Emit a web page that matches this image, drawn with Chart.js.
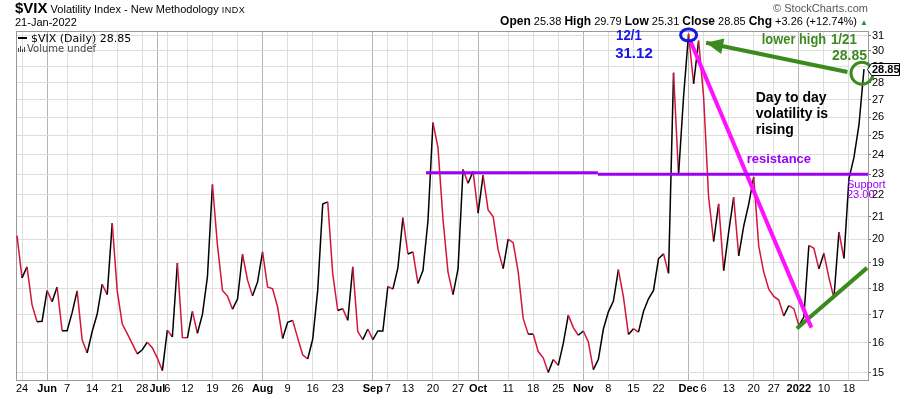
<!DOCTYPE html>
<html>
<head>
<meta charset="utf-8">
<script src="https://cdn.jsdelivr.net/npm/chart.js@4"></script>
<style>
  body { margin: 0; background: #fff; }
  #wrap { position: relative; width: 900px; height: 396px; font-family: "Liberation Sans", Arial, sans-serif; }
  #c { position: absolute; left: 0; top: 0; }
  .hd { position: absolute; white-space: nowrap; color: #000; }
  .hd b { font-weight: bold; font-size: 12px; }
</style>
</head>
<body>
<div id="wrap">
  <canvas id="c" width="900" height="396"></canvas>
  <div class="hd" style="left:15px;top:0px;font-size:11px;line-height:16px;">
    <b style="font-size:15px">$VIX</b> Volatility Index - New Methodology <span style="font-size:9px;letter-spacing:0.5px">INDX</span>
  </div>
  <div class="hd" style="left:15px;top:16px;font-size:11px;line-height:13px;">21-Jan-2022</div>
  <div class="hd" style="right:32px;top:2px;font-size:11px;line-height:13px;color:#555;">&copy; StockCharts.com</div>
  <div class="hd" style="right:32px;top:14px;font-size:11px;line-height:15px;">
    <b>Open</b> 25.38 <b>High</b> 29.79 <b>Low</b> 25.31 <b>Close</b> 28.85 <b>Chg</b> +3.26 (+12.74%) <span style="color:#2e8b2e;font-size:8px">&#9650;</span>
  </div>
</div>
<script>
// --- daily closes, 21-May-2021 .. 21-Jan-2022 (one per trading day) ---
const vix = [
  20.15, 18.40, 18.84, 17.36, 16.74, 16.76,                               // May
  17.90, 17.48, 18.04, 16.42, 16.42, 17.07, 17.89, 16.10, 15.65, 16.39,   // Jun
  17.02, 18.15, 17.75, 20.70, 17.89, 16.66, 16.32, 15.97, 15.62, 15.76,
  16.02, 15.83,
  15.48, 15.07, 16.44, 16.20, 19.00, 16.18, 16.17, 17.12, 16.33, 17.01,   // Jul
  18.45, 22.50, 19.73, 17.91, 17.69, 17.20, 17.58, 19.36, 18.31, 17.70,
  18.24,
  19.46, 18.04, 17.97, 17.28, 16.15, 16.72, 16.79, 16.17, 15.59, 15.45,   // Aug
  16.12, 17.91, 21.57, 21.67, 18.56, 17.15, 17.22, 16.79, 18.84, 16.39,
  16.11, 16.48,
  16.11, 16.41, 16.41, 18.06, 17.96, 18.80, 20.95, 19.37, 19.46, 18.18,   // Sep
  18.69, 20.81, 25.71, 24.36, 20.87, 18.63, 17.75, 18.76, 23.25, 22.56,
  23.14,
  21.15, 22.96, 21.30, 21.00, 19.54, 18.77, 20.00, 19.85, 18.64, 16.86,   // Oct
  16.30, 16.30, 15.70, 15.49, 15.01, 15.43, 15.24, 15.98, 16.98, 16.53,
  16.26,
  16.41, 16.03, 15.10, 15.44, 16.48, 17.10, 17.50, 18.73, 17.66, 16.29,   // Nov
  16.49, 16.37, 17.11, 17.59, 17.91, 19.17, 19.38, 18.58, 28.62, 22.96,
  27.19,
  31.12, 27.95, 30.67, 27.18, 21.89, 19.90, 21.58, 18.69, 20.31, 21.89,   // Dec
  19.29, 20.57, 21.57, 22.87, 19.70, 18.63, 17.96, 17.68, 17.54, 16.95,
  17.33, 17.22,
  16.60, 16.91, 19.73, 19.61, 18.76, 19.40, 18.41, 17.62, 20.31, 19.19,   // Jan
  22.79, 23.85, 25.59, 28.85
];

// x axis labels: trading-day index -> text
const tickIdx  = [1, 6, 10, 15, 20, 25, 28, 30, 34, 39, 44, 49, 54, 59, 64, 71, 74, 78, 83, 88,
                  92, 98, 103, 108, 113, 118, 123, 128, 134, 137, 142, 147, 151, 156, 161, 166];
const tickText = ['24', 'Jun', '7', '14', '21', '28', 'Jul', '6', '12', '19', '26', 'Aug', '9', '16', '23',
                  'Sep', '7', '13', '20', '27', 'Oct', '11', '18', '25', 'Nov', '8', '15', '22',
                  'Dec', '6', '13', '20', '27', '2022', '10', '18'];
const monthTicks = ['Jun', 'Jul', 'Aug', 'Sep', 'Oct', 'Nov', 'Dec', '2022'];
const yTicks = [15, 16, 17, 18, 19, 20, 21, 22, 23, 24, 25, 26, 27, 28, 29, 30, 31];

// hand drawn lines, in (trading-day index, value)
const resistanceA = [[81.6, 23.08], [115.9, 23.08]];
const resistanceB = [[115.9, 23.0], [169.8, 23.0]];
const downTrend   = [[134.3, 30.7], [158.5, 16.53]];
const lowerHigh   = [[137.5, 30.53], [165.7, 28.67]];
const upTrend     = [[155.6, 16.5], [169.6, 18.8]];

const RED = '#d4143c', BLACK = '#000';
const GREEN = '#3c8a1e', PURPLE = '#9b00f2', MAGENTA = '#ff10ff', BLUE = '#1515e8';
const SANS = '"Liberation Sans", Arial, sans-serif';

const pts = arr => arr.map(p => ({ x: p[0], y: p[1] }));
const drawn = (arr, color, w) => ({
  data: pts(arr), borderColor: color, borderWidth: w, pointRadius: 0, order: 0, tension: 0
});

// frame, legend and the text / shapes drawn on the chart
const extras = {
  id: 'extras',
  beforeDatasetsDraw(chart) {
    const { ctx, chartArea: a } = chart;
    ctx.save();
    ctx.strokeStyle = '#999';
    ctx.lineWidth = 1;
    ctx.strokeRect(a.left + 0.5, a.top + 0.5, a.right - a.left, a.bottom - a.top);
    // legend
    ctx.fillStyle = '#000';
    ctx.fillRect(a.left + 2, a.top + 6, 9, 2);
    ctx.font = '11px "DejaVu Sans", sans-serif';
    ctx.textBaseline = 'alphabetic';
    ctx.fillText('$VIX (Daily) 28.85', a.left + 15, a.top + 11);
    ctx.font = '10px "DejaVu Sans", sans-serif';
    ctx.fillStyle = '#444';
    [4, 6, 3, 5].forEach((h, i) => ctx.fillRect(a.left + 2 + i * 2, a.top + 21 - h, 1, h));
    ctx.fillText('Volume undef', a.left + 11, a.top + 21);
    ctx.restore();
  },
  afterDatasetsDraw(chart) {
    const { ctx, scales: { x, y } } = chart;
    const px = i => x.getPixelForValue(i), py = v => y.getPixelForValue(v);
    ctx.save();
    // arrow head on the lower-high line
    const tx = px(lowerHigh[0][0]), ty = py(lowerHigh[0][1]);
    const ex = px(lowerHigh[1][0]), ey = py(lowerHigh[1][1]);
    const ang = Math.atan2(ty - ey, tx - ex);
    ctx.fillStyle = GREEN;
    ctx.beginPath();
    ctx.moveTo(tx, ty);
    ctx.lineTo(tx - 17 * Math.cos(ang) + 8 * Math.sin(ang), ty - 17 * Math.sin(ang) - 8 * Math.cos(ang));
    ctx.lineTo(tx - 17 * Math.cos(ang) - 8 * Math.sin(ang), ty - 17 * Math.sin(ang) + 8 * Math.cos(ang));
    ctx.closePath();
    ctx.fill();
    // circles
    ctx.lineWidth = 3;
    ctx.strokeStyle = GREEN;
    ctx.beginPath();
    ctx.arc(px(168.6), py(28.59), 11, 0, Math.PI * 2);
    ctx.stroke();
    ctx.strokeStyle = BLUE;
    ctx.beginPath();
    ctx.ellipse(px(134.0), py(31.05), 8, 6, 0, 0, Math.PI * 2);
    ctx.stroke();
    // texts
    const txt = (s, i, v, color, font, align, sx) => {
      ctx.save();
      ctx.fillStyle = color;
      ctx.font = font;
      ctx.textAlign = align || 'left';
      ctx.translate(px(i), py(v));
      ctx.scale(sx || 1, 1);
      ctx.fillText(s, 0, 0);
      ctx.restore();
    };
    const B15 = 'bold 15px ' + SANS, B14 = 'bold 14px ' + SANS;
    txt('12/1', 122.1, 30.71, BLUE, B15, 'center', 0.88);
    txt('31.12', 123.1, 29.54, BLUE, B15, 'center');
    txt('lower high', 148.6, 30.45, GREEN, B14, 'left', 0.92);
    txt('1/21', 162.4, 30.45, GREEN, B14, 'left', 0.95);
    txt('28.85', 169.6, 29.42, GREEN, B14, 'right');
    txt('Day to day', 147.4, 26.87, BLACK, B14);
    txt('volatility is', 147.4, 25.96, BLACK, B14);
    txt('rising', 147.4, 25.08, BLACK, B14);
    txt('resistance', 145.6, 23.56, PURPLE, 'bold 13px ' + SANS);
    ctx.restore();
  },
  afterDraw(chart) {
    const { ctx, chartArea: a, scales: { y } } = chart;
    ctx.save();
    ctx.fillStyle = PURPLE;
    ctx.font = '11px ' + SANS;
    ctx.fillText('Support', a.right - 21, y.getPixelForValue(22.33));
    ctx.fillText('23.00', a.right - 21, y.getPixelForValue(21.85));
    // last price tag
    const ly = Math.round(y.getPixelForValue(vix[vix.length - 1])) + 0.5;
    ctx.beginPath();
    ctx.moveTo(a.right - 0.5, ly);
    ctx.lineTo(a.right + 3.5, ly - 6);
    ctx.lineTo(899.5, ly - 6);
    ctx.lineTo(899.5, ly + 6);
    ctx.lineTo(a.right + 3.5, ly + 6);
    ctx.closePath();
    ctx.fillStyle = '#fff';
    ctx.fill();
    ctx.strokeStyle = '#000';
    ctx.lineWidth = 1;
    ctx.stroke();
    ctx.fillStyle = '#000';
    ctx.font = 'bold 11px ' + SANS;
    ctx.textBaseline = 'middle';
    ctx.fillText(vix[vix.length - 1].toFixed(2), a.right + 4, ly + 0.5);
    ctx.restore();
  }
};

new Chart(document.getElementById('c'), {
  type: 'line',
  data: {
    datasets: [
      {
        data: vix.map((v, i) => ({ x: i, y: v })),
        borderWidth: 1.5,
        borderColor: BLACK,
        pointRadius: 0,
        tension: 0,
        order: 5,
        segment: { borderColor: c => c.p1.parsed.y < c.p0.parsed.y ? RED : BLACK }
      },
      drawn(resistanceA, PURPLE, 3),
      drawn(resistanceB, PURPLE, 3),
      drawn(downTrend, MAGENTA, 4),
      drawn(lowerHigh, GREEN, 4),
      drawn(upTrend, GREEN, 4)
    ]
  },
  options: {
    responsive: false,
    animation: false,
    devicePixelRatio: 1,
    layout: { padding: { left: 16, top: 31, right: 0, bottom: 0 } },
    plugins: { legend: { display: false }, tooltip: { enabled: false } },
    scales: {
      x: {
        type: 'linear',
        min: -0.2,
        max: 169.8,
        bounds: 'data',
        afterBuildTicks: s => { s.ticks = tickIdx.map(v => ({ value: v })); },
        afterFit: s => { s.height = 16; },
        border: { display: false },
        grid: {
          drawTicks: false,
          color: c => c.tick && monthTicks.includes(tickText[tickIdx.indexOf(c.tick.value)]) ? '#b4b4b4' : '#dedede'
        },
        ticks: {
          autoSkip: false,
          maxRotation: 0,
          padding: 2,
          color: '#000',
          font: c => ({
            family: SANS, size: 11,
            weight: c.tick && monthTicks.includes(tickText[tickIdx.indexOf(c.tick.value)]) ? 'bold' : 'normal'
          }),
          callback: v => tickText[tickIdx.indexOf(v)]
        }
      },
      y: {
        type: 'logarithmic',
        position: 'right',
        min: 14.766,
        max: 31.315,
        bounds: 'data',
        afterBuildTicks: s => { s.ticks = yTicks.map(v => ({ value: v })); },
        afterFit: s => { s.width = 32; },
        border: { display: false },
        grid: { color: '#dedede', tickLength: 3, tickColor: '#777' },
        ticks: { padding: 1, color: '#000', font: { family: SANS, size: 11 }, callback: v => String(v) }
      }
    }
  },
  plugins: [extras]
});
</script>
</body>
</html>
